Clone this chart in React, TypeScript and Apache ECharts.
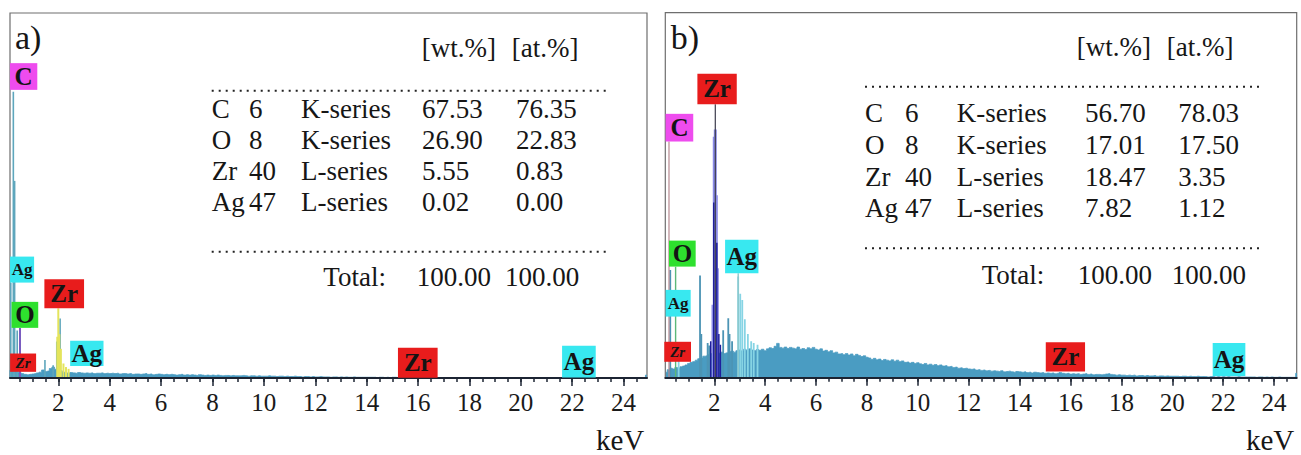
import React, { useEffect, useRef } from "react";
import * as echarts from "echarts";

// ---------- axis ticks (keV) ----------
const MAJOR_TICKS = [2, 4, 6, 8, 10, 12, 14, 16, 18, 20, 22, 24];
const MINOR_TICKS = [
  0.5, 1, 1.5, 2, 2.5, 3, 3.5, 4, 4.5, 5, 5.5, 6, 6.5, 7, 7.5, 8, 8.5, 9, 9.5, 10,
  10.5, 11, 11.5, 12, 12.5, 13, 13.5, 14, 14.5, 15, 15.5, 16, 16.5, 17, 17.5, 18,
  18.5, 19, 19.5, 20, 20.5, 21, 21.5, 22, 22.5, 23, 23.5, 24, 24.5,
];

// ---------- spectra: background continuum, one value per 0.1 keV channel (0.1 .. 24.9 keV) ----------
const CHANNEL_START = 0.1;
const CHANNEL_STEP = 0.1;

const BG_A = [
  2.0, 3.0, 2.5, 1.8, 1.5, 1.2, 1.0, 0.9, 1.0, 1.1,
  1.2, 1.4, 1.6, 2.2, 1.8, 1.9, 2.6, 3.0, 2.4, 2.5,
  2.0, 1.6, 1.4, 1.3, 1.5, 1.4, 1.3, 1.5, 1.4, 1.3,
  1.4, 1.3, 1.4, 1.2, 1.3, 1.3, 1.4, 1.2, 1.3, 1.2,
  1.3, 1.2, 1.3, 1.1, 1.2, 1.2, 1.1, 1.2, 1.0, 1.1,
  1.1, 1.0, 1.1, 1.2, 1.0, 1.1, 0.9, 1.0, 1.1, 1.0,
  0.9, 1.0, 0.9, 1.0, 0.9, 0.8, 0.9, 1.0, 0.8, 0.9,
  0.8, 0.9, 0.8, 0.7, 0.9, 0.8, 0.7, 0.8, 0.7, 0.8,
  0.7, 0.8, 0.7, 0.6, 0.7, 0.7, 0.6, 0.7, 0.6, 0.6,
  0.6, 0.7, 0.6, 0.5, 0.6, 0.6, 0.5, 0.6, 0.5, 0.5,
  0.5, 0.6, 0.5, 0.5, 0.4, 0.5, 0.5, 0.4, 0.5, 0.4,
  0.4, 0.5, 0.4, 0.4, 0.3, 0.4, 0.4, 0.3, 0.4, 0.3,
  0.3, 0.4, 0.3, 0.3, 0.3, 0.2, 0.3, 0.3, 0.2, 0.3,
  0.2, 0.3, 0.2, 0.2, 0.3, 0.2, 0.2, 0.2, 0.2, 0.2,
  0.2, 0.2, 0.2, 0.1, 0.2, 0.2, 0.1, 0.2, 0.1, 0.2,
  0.2, 0.1, 0.2, 0.1, 0.1, 0.2, 0.1, 0.1, 0.1, 0.1,
  0.1, 0.1, 0.1, 0.1, 0.1, 0.1, 0.1, 0.1, 0.1, 0.1,
  0.1, 0.1, 0.1, 0.1, 0.1, 0.1, 0.1, 0.1, 0.1, 0.1,
  0.1, 0.1, 0.1, 0.1, 0.1, 0.1, 0.1, 0.1, 0.1, 0.1,
  0.1, 0.1, 0.1, 0.1, 0.1, 0.1, 0.1, 0.1, 0.1, 0.1,
  0.1, 0.1, 0.1, 0.1, 0.1, 0.1, 0.1, 0.1, 0.1, 0.1,
  0.1, 0.1, 0.1, 0.1, 0.1, 0.1, 0.1, 0.1, 0.1, 0.1,
  0.1, 0.1, 0.1, 0.1, 0.1, 0.1, 0.1, 0.1, 0.1, 0.1,
  0.1, 0.1, 0.1, 0.1, 0.1, 0.1, 0.1, 0.1, 0.1, 0.1,
  0.1, 0.1, 0.1, 0.1, 0.1, 0.1, 0.1, 0.1, 0.8,
];

const BG_B = [
  1.5, 2.2, 2.6, 2.4, 2.8, 2.6, 3.0, 3.2, 3.5, 3.9,
  4.2, 4.4, 4.8, 5.2, 5.4, 5.9, 6.0, 6.3, 6.6, 6.8,
  6.9, 6.7, 7.0, 6.6, 6.8, 7.1, 7.3, 7.0, 7.4, 7.6,
  7.3, 7.8, 7.5, 7.9, 7.6, 7.4, 7.7, 7.5, 7.8, 7.4,
  7.9, 8.2, 8.0, 8.6, 9.4, 8.3, 8.1, 8.4, 8.0, 8.3,
  8.1, 7.9, 8.4, 7.8, 8.0, 7.7, 8.2, 7.9, 8.3, 7.8,
  7.6, 7.9, 7.3, 7.5, 7.1, 7.4, 6.8, 7.0, 6.5, 6.6,
  6.3, 6.6, 6.2, 6.5, 6.0, 6.4, 6.1, 5.8, 6.0, 5.6,
  5.4, 5.0, 5.3, 4.9, 5.1, 4.7, 5.0, 4.8, 4.6, 4.9,
  4.5, 4.8, 4.4, 4.6, 4.2, 4.3, 4.0, 4.2, 3.9, 4.1,
  3.8, 3.6, 3.9, 3.5, 3.7, 3.4, 3.6, 3.3, 3.5, 3.2,
  3.3, 3.0, 3.1, 2.8, 2.9, 2.6, 2.7, 2.5, 2.6, 2.4,
  2.3, 2.4, 2.1, 2.2, 2.0, 2.1, 1.9, 2.0, 1.8, 1.9,
  1.8, 1.7, 1.9, 1.6, 1.7, 1.8, 1.6, 1.5, 1.7, 1.6,
  1.5, 1.6, 1.4, 1.5, 1.3, 1.5, 1.4, 1.3, 1.4, 1.2,
  1.3, 1.2, 1.3, 1.1, 1.2, 1.4, 1.2, 1.1, 1.2, 1.0,
  1.1, 1.0, 1.1, 0.9, 1.0, 1.1, 0.9, 1.0, 0.8, 0.9,
  0.9, 0.8, 0.9, 1.0, 1.1, 0.9, 0.8, 0.7, 0.8, 0.7,
  0.7, 0.6, 0.7, 0.6, 0.7, 0.5, 0.6, 0.6, 0.5, 0.6,
  0.5, 0.5, 0.6, 0.4, 0.5, 0.5, 0.4, 0.5, 0.4, 0.4,
  0.4, 0.4, 0.3, 0.4, 0.4, 0.3, 0.4, 0.3, 0.3, 0.4,
  0.3, 0.3, 0.3, 0.2, 0.3, 0.3, 0.2, 0.3, 0.2, 0.3,
  0.2, 0.3, 0.2, 0.2, 0.2, 0.3, 0.2, 0.2, 0.2, 0.2,
  0.2, 0.2, 0.1, 0.2, 0.2, 0.1, 0.2, 0.1, 0.2, 0.1,
  0.1, 0.2, 0.1, 0.1, 0.1, 0.1, 0.1, 0.1, 1.2,
];

// ---------- peaks: [keV, height] ----------
const A_TEAL_PEAKS = [[0.15, 26], [0.25, 78.4], [0.3, 54], [0.4, 13], [1.48, 4.9], [1.8, 3.5], [1.94, 10], [2.07, 16.3]];
const A_O_PEAKS = [[0.51, 13.7]];
const A_ZR_PEAKS = [[1.96, 11.3], [2.0, 19.1], [2.04, 12], [2.1, 8], [2.2, 4], [2.3, 3], [2.4, 2.5]];

const B_TEAL_PEAKS = [[0.27, 29.5], [1.44, 28], [1.49, 12], [1.74, 9.5], [1.8, 8.8], [2.35, 13], [2.55, 16.3], [2.6, 12], [2.7, 10]];
const B_ZR_FILL = [[1.95, 20], [2.0, 66], [2.04, 68], [2.08, 50], [2.12, 30]];
const B_ZR_LINES = [[1.86, 10], [1.98, 48], [2.1, 37], [2.18, 12], [2.24, 9]];
const B_AG_PEAKS = [[0.6, 6], [2.94, 27.7], [3.02, 23], [3.1, 21.3], [3.2, 16], [3.32, 12], [3.45, 10], [3.55, 9.5], [3.7, 9]];
const B_MARKER_ZR = [[2.04, 74.9]];
const B_MARKER_C = [[0.22, 64.7]];
const B_MARKER_O = [[0.48, 30.4]];
const B_MARKER_AG = [[2.94, 28.6]];

// ---------- element labels: [element, keV (centre), height (centre), kind] ----------
const LABELS_A = [
  ["C", 0.65, 82.6, "big"],
  ["Ag", 0.59, 29.7, "small"],
  ["O", 0.7, 17.3, "big"],
  ["Zr", 2.23, 23.1, "big"],
  ["Zr", 0.63, 4.2, "tiny"],
  ["Ag", 3.11, 6.75, "big"],
  ["Zr", 15.99, 4.2, "big"],
  ["Ag", 22.26, 4.5, "big"],
];
const LABELS_B = [
  ["Zr", 2.11, 79.1, "big"],
  ["C", 0.63, 68.5, "big"],
  ["O", 0.745, 34.0, "big"],
  ["Ag", 3.08, 33.2, "big"],
  ["Ag", 0.58, 20.4, "small"],
  ["Zr", 0.56, 7.1, "tiny"],
  ["Zr", 15.8, 5.7, "big"],
  ["Ag", 22.23, 5.0, "big"],
];

// ---------- quantification tables ----------
const T_ELEMENTS = ["C", "O", "Zr", "Ag"];
const T_Z = ["6", "8", "40", "47"];
const T_SERIES = ["K-series", "K-series", "L-series", "L-series"];
const WT_A = ["67.53", "26.90", "5.55", "0.02"];
const AT_A = ["76.35", "22.83", "0.83", "0.00"];
const WT_B = ["56.70", "17.01", "18.47", "7.82"];
const AT_B = ["78.03", "17.50", "3.35", "1.12"];
const TOTAL_WT = "100.00";
const TOTAL_AT = "100.00";

// ---------- styles ----------
const FONT = "Liberation Serif";
const BOX_COLORS: Record<string, string> = { C: "#ee4cee", O: "#2ee02e", Zr: "#e81c1c", Ag: "#38e8f0" };
const TEXT_W: Record<string, number> = { C: 18, O: 19.5, Zr: 27.8, Ag: 30.5 };

function App() {
  const ref = useRef<HTMLDivElement>(null);

  useEffect(() => {
    if (!ref.current) return;
    const chart = echarts.init(ref.current, null, { renderer: "svg" });

    const toPairs = (arr: number[]) => arr.map((v, i) => [+(CHANNEL_START + i * CHANNEL_STEP).toFixed(2), v]);

    const xMain = (gi: number, min: number, max: number) => ({
      type: "value", gridIndex: gi, min, max, position: "bottom", z: 10,
      axisLine: { show: true, onZero: false, lineStyle: { color: "#1c2433", width: 2 } },
      axisTick: { show: true, customValues: MINOR_TICKS, length: 4, lineStyle: { color: "#1c2433", width: 1.5 } },
      axisLabel: { show: true, customValues: MAJOR_TICKS, margin: 12, fontSize: 25, fontFamily: FONT, color: "#1a1a1a" },
      splitLine: { show: false },
    });
    const xMajor = (gi: number, min: number, max: number) => ({
      type: "value", gridIndex: gi, min, max, position: "bottom", z: 10,
      axisLine: { show: false },
      axisTick: { show: true, customValues: MAJOR_TICKS, length: 8, lineStyle: { color: "#1c2433", width: 1.5 } },
      axisLabel: { show: false },
      splitLine: { show: false },
    });
    const yAx = (gi: number) => ({ type: "value", gridIndex: gi, min: 0, max: 100, show: false, splitLine: { show: false } });

    const bg = (data: number[], xi: number, yi: number) => ({
      type: "line", xAxisIndex: xi, yAxisIndex: yi, data: toPairs(data), step: "middle",
      symbol: "none", silent: true, z: 2,
      lineStyle: { color: "#4a9cc2", width: 0.8 },
      areaStyle: { color: "#4a9cc2", opacity: 1 },
    });

    const spikes = (data: number[][], color: string, w: number, xi: number, yi: number, z: number) => ({
      type: "custom", xAxisIndex: xi, yAxisIndex: yi, data, z, clip: true, silent: true,
      renderItem: (params: any, api: any) => {
        const top = api.coord([api.value(0), api.value(1)]);
        const base = api.coord([api.value(0), 0]);
        return {
          type: "rect",
          shape: { x: top[0] - w / 2, y: top[1], width: w, height: base[1] - top[1] },
          style: { fill: color },
        };
      },
    });

    const labelSeries = (labels: any[], xi: number, yi: number, boxes: number[][]) => ({
      type: "scatter", xAxisIndex: xi, yAxisIndex: yi, symbol: "circle", symbolSize: 1, z: 20, silent: true,
      itemStyle: { color: "rgba(0,0,0,0)", opacity: 1 },
      labelLayout: { hideOverlap: false },
      data: labels.map((l, i) => {
        const [el, kev, h, kind] = l;
        const [bw, bh] = boxes[i];
        let fs = 25, tw = TEXT_W[el], style = "normal";
        if (kind === "small") { fs = 17; tw = TEXT_W[el] * 17 / 25; }
        if (kind === "tiny") { fs = 15; tw = 15; style = "italic"; }
        return {
          value: [kev, h],
          itemStyle: { opacity: 1 },
          label: {
            show: true, position: "inside", formatter: el, opacity: 1,
            fontFamily: FONT, fontWeight: "bold", fontStyle: style, fontSize: fs, lineHeight: fs,
            color: "#141414", backgroundColor: BOX_COLORS[el],
            padding: [Math.max(0, (bh - fs) / 2), Math.max(0, (bw - tw) / 2)],
          },
        };
      }),
    });

    const BOXES_A = [[27.3, 26.7], [24, 26], [26.7, 26], [39.7, 29], [26, 18.3], [33.3, 25.3], [39.7, 30], [33.6, 31.6]];
    const BOXES_B = [[39.4, 30.3], [27.6, 27.7], [26.7, 26], [33.3, 33.3], [25, 26.7], [26.7, 20], [39.3, 29.4], [32.6, 33]];

    const txt = (text: string, x: number, y: number, size: number) => ({
      type: "text", x, y, z: 30, silent: true,
      style: {
        text, fill: "#161616", fontSize: size, fontFamily: FONT,
        textAlign: "left", align: "left", textVerticalAlign: "middle", verticalAlign: "middle",
      },
    });
    const dots = (x1: number, x2: number, y: number) => ({
      type: "line", z: 30, silent: true,
      shape: { x1, y1: y, x2, y2: y },
      style: { stroke: "#222", lineWidth: 2, lineDash: [2, 5] },
    });

    const table = (cols: number[], rowY0: number, rowStep: number, wt: string[], at: string[],
      headY: number, headX: number[], d1: number, d2: number, dx: number[], totY: number, totX: number[]) => {
      const els: any[] = [];
      els.push(txt("[wt.%]", headX[0], headY, 27));
      els.push(txt("[at.%]", headX[1], headY, 27));
      els.push(dots(dx[0], dx[1], d1));
      T_ELEMENTS.forEach((e, i) => {
        const y = rowY0 + i * rowStep;
        els.push(txt(e, cols[0], y, 27));
        els.push(txt(T_Z[i], cols[1], y, 27));
        els.push(txt(T_SERIES[i], cols[2], y, 27));
        els.push(txt(wt[i], cols[3], y, 27));
        els.push(txt(at[i], cols[4], y, 27));
      });
      els.push(dots(dx[0], dx[1], d2));
      els.push(txt("Total:", totX[0], totY, 27));
      els.push(txt(TOTAL_WT, totX[1], totY, 27));
      els.push(txt(TOTAL_AT, totX[2], totY, 27));
      return els;
    };

    const option: any = {
      animation: false,
      textStyle: { fontFamily: FONT },
      grid: [
        { left: 10, top: 13, width: 637, height: 365, show: true, borderColor: "#6e6e6e", borderWidth: 1.2, backgroundColor: "#fff" },
        { left: 665.3, top: 12.7, width: 631.4, height: 365, show: true, borderColor: "#6e6e6e", borderWidth: 1.2, backgroundColor: "#fff" },
      ],
      xAxis: [xMain(0, 0.12, 24.91), xMajor(0, 0.12, 24.91), xMain(1, 0.075, 24.89), xMajor(1, 0.075, 24.89)],
      yAxis: [yAx(0), yAx(1)],
      series: [
        bg(BG_A, 0, 0),
        spikes(A_TEAL_PEAKS, "#5ea6bc", 1.6, 0, 0, 3),
        spikes(A_O_PEAKS, "#7a5cc0", 2, 0, 0, 4),
        spikes(A_ZR_PEAKS, "#e4e45c", 2, 0, 0, 4),
        labelSeries(LABELS_A, 0, 0, BOXES_A),

        bg(BG_B, 2, 1),
        spikes(B_TEAL_PEAKS, "#4c94b4", 1.8, 2, 1, 3),
        spikes(B_ZR_FILL, "#8c8ce8", 3, 2, 1, 4),
        spikes(B_ZR_LINES, "#1e1e9c", 1.5, 2, 1, 5),
        spikes(B_AG_PEAKS, "#86d4e4", 1.8, 2, 1, 4),
        spikes(B_MARKER_ZR, "#3c3c4c", 1.2, 2, 1, 6),
        spikes(B_MARKER_C, "#b88a90", 1.2, 2, 1, 6),
        spikes(B_MARKER_O, "#5cb878", 1.4, 2, 1, 6),
        spikes(B_MARKER_AG, "#8cc8cc", 1.4, 2, 1, 6),
        labelSeries(LABELS_B, 2, 1, BOXES_B),
      ],
      graphic: [
        txt("a)", 15, 37, 34),
        txt("b)", 670.7, 37, 34),
        txt("keV", 596, 440, 29),
        txt("keV", 1246, 440, 29),
        ...table([211.7, 249, 301, 422, 516], 108.5, 31, WT_A, AT_A, 48.3, [421.7, 511.7], 90.7, 251.7, [211.7, 606.7], 276.7, [323.3, 416.7, 505]),
        ...table([865, 905, 956.7, 1085, 1178.3], 113.3, 31.7, WT_B, AT_B, 46.7, [1076.7, 1166.7], 86.7, 248.3, [865, 1261.7], 275, [981.7, 1077.7, 1171.7]),
      ],
    };

    chart.setOption(option);
    return () => chart.dispose();
  }, []);

  return (
    <div
      ref={ref}
      style={{ position: "absolute", left: 0, top: 0, width: 1301, height: 455, background: "#fff" }}
    />
  );
}

export default App;
